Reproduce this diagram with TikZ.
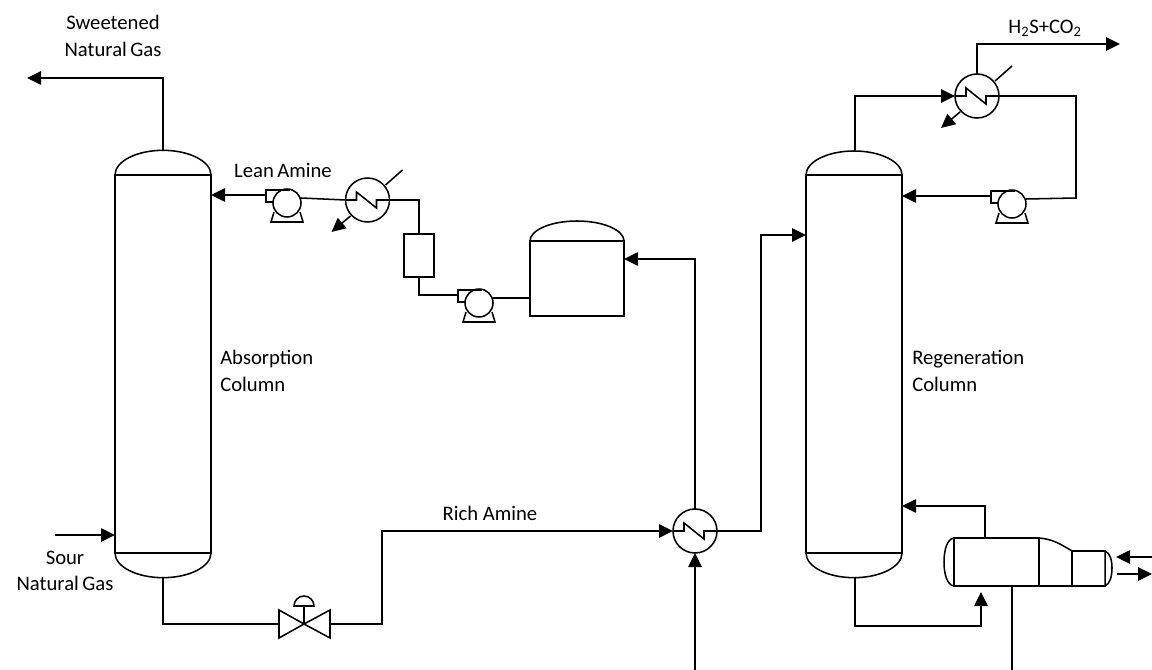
\documentclass[tikz,border=0pt]{standalone}
\usepackage{fontspec}
\setmainfont{Carlito}
\usetikzlibrary{arrows.meta}
\tikzset{
  pipe/.style={line width=1.15pt,line join=miter},
  flow/.style={pipe,-{Triangle[length=10.5pt,width=10pt]}},
  equip/.style={draw,line width=1.15pt,inner sep=0pt,outer sep=0pt},
  hexch/.style={equip,circle,minimum size=33pt},
  column/.style={equip,rectangle,minimum width=72pt,minimum height=283.5pt},
  label/.style={font=\fontsize{15.5pt}{18pt}\selectfont,inner sep=0pt,align=left},
  pumpbody/.pic={
    \draw[pipe] (0,0) circle[radius=14];
    \draw[pipe] (-13,-1) -- (-21,-1) -- (-21,-13) -- (3,-13);
    \draw[pipe] (-13,9) -- (-16,19) -- (16,19) -- (13,9);
    \coordinate (-in) at (14,-5);
    \coordinate (-out) at (-21,-8);
  }
}
\newcommand{\coil}[1]{\draw[pipe] (#1.west) -- ++(11,0) -- ++(0,-8) -- ++(20,16) -- ++(0,-8) -- (#1.east);}
\newcommand{\utility}[1]{%
  \begin{scope}[shift={(#1.center)}]
    \coordinate (#1f1) at (18,-15); \coordinate (#1f2) at (35,-30);
    \coordinate (#1a1) at (-17,16); \coordinate (#1a2) at (-36,32);
  \end{scope}
  \draw[pipe] (#1f1) -- (#1f2);
  \draw[flow] (#1a1) -- (#1a2);}
\begin{document}
\begin{tikzpicture}[x=0.75pt,y=-0.75pt]
\useasboundingbox (0,0) rectangle (1152,670);
% columns
\node[column] (abs) at (163,364) {};
\draw[pipe] (abs.north west) arc[x radius=36pt,y radius=18.5pt,start angle=180,end angle=0];
\draw[pipe] (abs.south west) arc[x radius=36pt,y radius=18.5pt,start angle=180,end angle=360];
\coordinate (abstop) at (163,150); \coordinate (absbot) at (163,578);
\node[column] (reg) at (854,364) {};
\draw[pipe] (reg.north west) arc[x radius=36pt,y radius=18pt,start angle=180,end angle=0];
\draw[pipe] (reg.south west) arc[x radius=36pt,y radius=18.5pt,start angle=180,end angle=360];
\coordinate (regtop) at (855,151); \coordinate (regbot) at (855,578);
% tank
\node[equip,minimum width=70.5pt,minimum height=56.25pt] (tank) at (577,278.5) {};
\draw[pipe] (tank.north west) arc[x radius=35.25pt,y radius=15pt,start angle=180,end angle=0];
% filter
\node[equip,minimum width=22.5pt,minimum height=32.25pt] (filter) at (419,255.5) {};
% exchangers
\node[hexch] (hxa) at (367.5,200) {};
\node[hexch] (hxb) at (695,531) {};
\node[hexch] (hxc) at (977,96) {};
\coil{hxa} \coil{hxb} \coil{hxc}
\utility{hxa} \utility{hxc}
% pumps
\pic (pa) at (287,203) {pumpbody};
\pic (pb) at (479,303) {pumpbody};
\pic (pc) at (1012,204) {pumpbody};
% valve
\coordinate (vc) at (304,624);
\coordinate (vl) at (279,624);
\coordinate (vr) at (330,624);
\draw[pipe] (vc) -- (279,610) -- (vl) -- (279,638) -- cycle;
\draw[pipe] (vc) -- (330,610) -- (vr) -- (330,638) -- cycle;
\draw[pipe] (vc) -- (304,606);
\draw[pipe] (294,606) -- (314,606) arc[radius=7.5pt,start angle=0,end angle=180] -- cycle;
% reboiler
\node[equip,minimum width=63.75pt,minimum height=36pt] (reb) at (996.5,562) {};
\coordinate (rx) at (1039,586);
\draw[pipe] (reb.north west) .. controls (947,539) and (944,550) .. (944,562) .. controls (944,574) and (947,585) .. (reb.south west);
\draw[pipe] (reb.north east) .. controls (1053,539) and (1062,545) .. (1072,551) -- (1105,551) -- (1105,586) -- (rx);
\draw[pipe] (1072,551) -- (1072,586);
\draw[pipe] (1105,551) .. controls (1110,553) and (1112,560) .. (1112,568) .. controls (1112,576) and (1110,584) .. (1105,586);
% free ends
\coordinate (sg) at (27,78);
\coordinate (sour) at (55,535);
\coordinate (acid) at (1120,44);
\coordinate (cwin) at (695,670);
\coordinate (steamin) at (1012,670);
\coordinate (ri1) at (1152,557); \coordinate (ri2) at (1116,557);
\coordinate (ro1) at (1117,574); \coordinate (ro2) at (1152,574);
% connectors
\draw[flow] (abstop) |- (sg);
\draw[flow] (sour) -- (abs.west |- sour);
\draw[pipe] (absbot) |- (vl);
\draw[flow] (vr) -- (382,624) |- (hxb.west);
\draw[flow] (pa-out) -- (abs.east |- pa-out);
\draw[pipe] (hxa.west) -- (pa-in);
\draw[pipe] (hxa.east) -| (filter.north);
\draw[pipe] (filter.south) |- (pb-out);
\draw[pipe] (pb-in) -- (tank.west |- pb-in);
\draw[flow] (hxb.north) |- (tank.east |- 0,259);
\draw[flow] (hxb.east) -- (761,531) |- (reg.west |- 0,235);
\draw[flow] (cwin) -- (hxb.south);
\draw[flow] (regtop) |- (hxc.west);
\draw[flow] (hxc.north) |- (acid);
\draw[pipe] (hxc.east) -| (1076,198) -- (pc-in);
\draw[flow] (pc-out) -- (reg.east |- pc-out);
\draw[flow] (985,538) |- (reg.east |- 0,506);
\draw[flow] (regbot) -- (855,626) -| (981,592);
\draw[pipe] (1012,586) -- (steamin);
\draw[flow] (ri1) -- (ri2);
\draw[flow] (ro1) -- (ro2);
% labels
\node[label,align=center] (t1) at (113,36) {Sweetened\\[2pt]Natural\,Gas};
\node[label,align=center] (t2) at (65,571) {Sour\\[2pt]Natural\,Gas};
\node[label] (t3) at (283,170) {Lean\,Amine};
\node[label,anchor=west] (t4) at (220,371) {Absorption\\[2pt]Column};
\node[label] (t5) at (490,513) {Rich Amine};
\node[label,anchor=west] (t6) at (912,371) {Regeneration\\[2pt]Column};
\node[label] (t7) at (1045,28) {H\textsubscript{2}S+CO\textsubscript{2}};
\end{tikzpicture}
\end{document}
